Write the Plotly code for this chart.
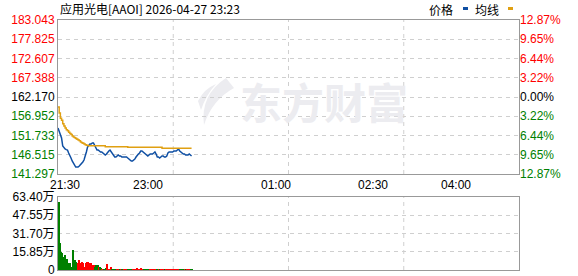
import plotly.graph_objects as go

# ---------------- data ----------------
TITLE = "应用光电[AAOI] 2026-04-27 23:23"
PREV_CLOSE = 162.170
PRICE_TICKS = [141.297, 146.515, 151.733, 156.952, 162.170, 167.388, 172.607, 177.825, 183.043]
PCT_LABELS = ["12.87%", "9.65%", "6.44%", "3.22%", "0.00%", "3.22%", "6.44%", "9.65%", "12.87%"]
VOL_TICKS = [0, 15.85, 31.70, 47.55, 63.40]
VOL_LABELS = ["0", "15.85万", "31.70万", "47.55万", "63.40万"]
TIME_LABELS = ["21:30", "23:00", "01:00", "02:30", "04:00"]
SESSION_MINUTES = 390

PRICE = [
    153.77, 152.95, 152.14, 151.06, 148.89, 148.34, 148.07, 147.90, 147.80, 146.99,
    146.45, 145.63, 144.82, 144.28, 143.74, 143.19, 143.19, 143.19, 143.46, 143.74,
    144.28, 144.55, 145.09, 145.90, 147.26, 148.61, 149.16, 149.43, 149.43, 149.70,
    149.70, 148.89, 148.07, 147.80, 147.80, 147.53, 147.26, 147.26, 146.99, 146.72,
    146.45, 146.72, 147.26, 147.53, 147.80, 147.26, 146.72, 146.45, 145.90, 145.90,
    146.18, 146.45, 146.18, 146.18, 145.90, 145.90, 145.90, 145.90, 145.90, 145.63,
    145.36, 145.09, 144.82, 144.82, 145.09, 145.36, 145.90, 146.45, 146.72, 146.99,
    147.53, 147.53, 147.26, 146.99, 146.72, 146.45, 146.18, 146.45, 146.72, 146.72,
    146.72, 146.99, 147.26, 146.72, 145.90, 145.90, 145.63, 145.90, 146.18, 146.18,
    145.90, 145.90, 146.18, 146.99, 147.26, 147.26, 147.26, 147.26, 147.53, 147.53,
    147.53, 147.80, 148.07, 147.53, 147.26, 146.99, 146.72, 146.72, 146.45, 146.45,
    146.45, 146.72, 146.45, 146.18,
]

AVG = [
    159.46, 157.83, 156.40, 155.90, 154.90, 154.30, 153.80, 153.30, 153.00, 152.60,
    152.30, 152.00, 151.60, 151.30, 151.10, 150.90, 150.70, 150.50, 150.30, 150.00,
    149.80, 149.60, 149.40, 149.20, 149.10, 149.00, 148.97, 148.97, 148.97, 148.97,
    148.97, 148.97, 148.97, 148.97, 148.97, 148.97, 148.97, 148.97, 148.97, 148.97,
    148.70, 148.70, 148.70, 148.70, 148.70, 148.70, 148.70, 148.70, 148.70, 148.70,
    148.70, 148.70, 148.70, 148.70, 148.70, 148.70, 148.70, 148.70, 148.70, 148.53,
    148.53, 148.53, 148.53, 148.53, 148.53, 148.53, 148.53, 148.53, 148.53, 148.53,
    148.53, 148.53, 148.53, 148.53, 148.53, 148.53, 148.53, 148.53, 148.53, 148.53,
    148.53, 148.53, 148.53, 148.53, 148.53, 148.53, 148.53, 148.53, 148.26, 148.26,
    148.26, 148.26, 148.26, 148.26, 148.26, 148.26, 148.26, 148.26, 148.26, 148.26,
    148.26, 148.26, 148.26, 148.26, 148.26, 148.26, 148.26, 148.26, 148.26, 148.26,
    148.26, 148.26, 148.26, 148.26,
]

# volume in 万 shares
VOLUME = [
    59.3, 23.2, 15.9, 14.5, 11.6, 13.0, 7.2, 9.6, 5.8, 4.3,
    5.8, 2.9, 17.4, 5.8, 8.7, 7.2, 5.8, 8.7, 5.8, 5.8,
    7.2, 5.8, 2.9, 5.8, 7.2, 7.2, 6.5, 5.8, 4.3, 2.9,
    4.3, 2.9, 4.3, 4.5, 2.9, 2.9, 1.4, 0.8, 0.6, 0.7,
    1.0, 5.0, 0.8, 0.6, 3.0, 0.7, 0.5, 0.6, 0.5, 0.8,
    0.6, 0.5, 0.7, 0.6, 0.5, 0.4, 0.6, 0.5, 0.7, 0.6,
    0.5, 0.4, 0.5, 0.6, 0.5, 0.7, 0.9, 0.8, 0.6, 0.7,
    0.9, 0.5, 0.4, 0.5, 0.6, 0.5, 0.4, 0.5, 0.4, 0.5,
    0.4, 0.6, 0.5, 0.4, 0.6, 0.5, 0.4, 0.5, 0.5, 0.4,
    0.4, 0.5, 0.4, 0.7, 0.5, 0.4, 0.5, 0.4, 0.5, 0.4,
    0.4, 0.5, 0.8, 0.4, 0.5, 0.4, 0.5, 0.4, 0.4, 0.5,
    0.4, 0.5, 0.4, 0.4,
]

MINUTES = list(range(len(PRICE)))

# ---------------- styling ----------------
W, H = 578, 276
RED, GREEN, BLACK = "#ff0000", "#008000", "#000000"
BLUE_LINE, GOLD_LINE = "#0f4fa3", "#e0a012"
FRAME = "#999999"
GRID = "#cfcfcf"
NUM_FONT = "Liberation Sans, Arial, sans-serif"
CJK_FONT = "Noto Sans CJK SC, sans-serif"

PLOT_L, PLOT_R = 58, 519
PRICE_T, PRICE_B = 20, 174
VOL_T, VOL_B = 197, 270


def px_x(x):
    return x / W


def px_y(y):
    return 1 - y / H


def colour_for(v, ref):
    if abs(v - ref) < 1e-9:
        return BLACK
    return RED if v > ref else GREEN


price_ticktext = [f'<span style="color:{colour_for(v, PREV_CLOSE)}">{v:.3f}</span>' for v in PRICE_TICKS]
pct_ticktext = [f'<span style="color:{colour_for(v, PREV_CLOSE)}">{lab}</span>' for v, lab in zip(PRICE_TICKS, PCT_LABELS)]

# bar colour: red if the minute closes at/above the previous minute, green otherwise
bar_colours = []
prev = PREV_CLOSE
for p in PRICE:
    bar_colours.append(RED if p >= prev else GREEN)
    prev = p

fig = go.Figure()

fig.add_trace(go.Scatter(x=MINUTES, y=PRICE, mode="lines", line=dict(color=BLUE_LINE, width=1.5),
                         xaxis="x", yaxis="y", hoverinfo="skip", showlegend=False))
fig.add_trace(go.Scatter(x=MINUTES, y=AVG, mode="lines", line=dict(color=GOLD_LINE, width=1.5, shape="hv"),
                         xaxis="x", yaxis="y", hoverinfo="skip", showlegend=False))
# invisible trace to carry the right-hand percentage axis
fig.add_trace(go.Scatter(x=[MINUTES[0]], y=[PREV_CLOSE], mode="markers", marker=dict(opacity=0),
                         xaxis="x", yaxis="y2", hoverinfo="skip", showlegend=False))
# bars start at their minute and extend to the right
fig.add_trace(go.Bar(x=MINUTES, y=VOLUME, marker=dict(color=bar_colours, line=dict(width=0)),
                     width=0.85, offset=0.1, xaxis="x2", yaxis="y3", hoverinfo="skip", showlegend=False))

dom_x = [px_x(PLOT_L), px_x(PLOT_R)]
dom_price = [px_y(PRICE_B), px_y(PRICE_T)]
dom_vol = [px_y(VOL_B), px_y(VOL_T)]

# positions of the time labels (as drawn in the reference)
label_px = [65, 148, 276, 373, 456]
time_tickvals = [(p - PLOT_L) / (PLOT_R - PLOT_L) * SESSION_MINUTES for p in label_px]

axis_common = dict(showline=True, linecolor=FRAME, linewidth=1, mirror=True, zeroline=False, ticks="",
                   automargin=False)

fig.update_layout(
    width=W, height=H, margin=dict(l=0, r=0, t=0, b=0, autoexpand=False),
    paper_bgcolor="white", plot_bgcolor="white",
    bargap=0,
    xaxis=dict(domain=dom_x, range=[0, SESSION_MINUTES], anchor="y", showgrid=False,
               tickvals=time_tickvals, ticktext=TIME_LABELS,
               tickfont=dict(family=NUM_FONT, size=12, color=BLACK), **axis_common),
    xaxis2=dict(domain=dom_x, range=[0, SESSION_MINUTES], anchor="y3", showgrid=False,
                showticklabels=False, **axis_common),
    yaxis=dict(domain=dom_price, range=[PRICE_TICKS[0], PRICE_TICKS[-1]], anchor="x",
               tickvals=PRICE_TICKS, ticktext=price_ticktext, showgrid=True, gridcolor=GRID,
               griddash="4px,4px", gridwidth=1,
               tickfont=dict(family=NUM_FONT, size=12), **axis_common),
    yaxis2=dict(domain=dom_price, range=[PRICE_TICKS[0], PRICE_TICKS[-1]], anchor="x", overlaying="y",
                side="right", tickvals=PRICE_TICKS, ticktext=pct_ticktext, showgrid=False,
                showline=False, zeroline=False, ticks="", automargin=False,
                tickfont=dict(family=NUM_FONT, size=12)),
    yaxis3=dict(domain=dom_vol, range=[0, VOL_TICKS[-1]], anchor="x2",
                tickvals=VOL_TICKS, ticktext=VOL_LABELS, showgrid=True, gridcolor=GRID,
                griddash="4px,4px", gridwidth=1, ticklabeloverflow="allow",
                tickfont=dict(family=NUM_FONT + ", " + CJK_FONT, size=12, color=BLACK), **axis_common),
)

shapes = []
# vertical dashed guides at the quarters of the session
for q in (0.25, 0.5, 0.75):
    xv = SESSION_MINUTES * q
    shapes.append(dict(type="line", xref="x", yref="y domain", x0=xv, x1=xv, y0=0, y1=1,
                       line=dict(color=GRID, width=1, dash="4px,4px"), layer="below"))
    shapes.append(dict(type="line", xref="x2", yref="y3 domain", x0=xv, x1=xv, y0=0, y1=1,
                       line=dict(color=GRID, width=1, dash="4px,4px"), layer="below"))

# legend swatches
for (x0, x1, col) in ((463, 468, BLUE_LINE), (508, 513, GOLD_LINE)):
    shapes.append(dict(type="rect", xref="paper", yref="paper", x0=px_x(x0), x1=px_x(x1),
                       y0=px_y(10), y1=px_y(7), fillcolor=col, line=dict(width=0)))


# watermark swoosh
def P(x, y):
    return f"{px_x(x):.5f} {px_y(y):.5f}"


swoosh = (f"M {P(226, 78)} Q {P(200, 95)} {P(204, 125)} Q {P(212, 100)} {P(234, 88)} Z "
          f"M {P(198, 101)} Q {P(204, 89)} {P(216, 84)} Q {P(206, 95)} {P(201, 110)} Z")
shapes.append(dict(type="path", xref="paper", yref="paper", path=swoosh,
                   fillcolor="#ececf0", line=dict(width=0), layer="below"))
fig.update_layout(shapes=shapes)

annotations = [
    dict(text=TITLE, x=px_x(58), y=px_y(8), xref="paper", yref="paper", xanchor="left", yanchor="middle",
         showarrow=False, font=dict(family=CJK_FONT, size=12, color=BLACK)),
    dict(text="价格", x=px_x(455), y=px_y(9), xref="paper", yref="paper", xanchor="right", yanchor="middle",
         showarrow=False, font=dict(family=CJK_FONT, size=12, color=BLACK)),
    dict(text="均线", x=px_x(501), y=px_y(9), xref="paper", yref="paper", xanchor="right", yanchor="middle",
         showarrow=False, font=dict(family=CJK_FONT, size=12, color=BLACK)),
    dict(text="<b>东方财富</b>", x=px_x(238), y=px_y(100), xref="paper", yref="paper", xanchor="left",
         yanchor="middle", showarrow=False, font=dict(family=CJK_FONT, size=42, color="#ececf0")),
]
fig.update_layout(annotations=annotations)

fig.write_html("out.html")
